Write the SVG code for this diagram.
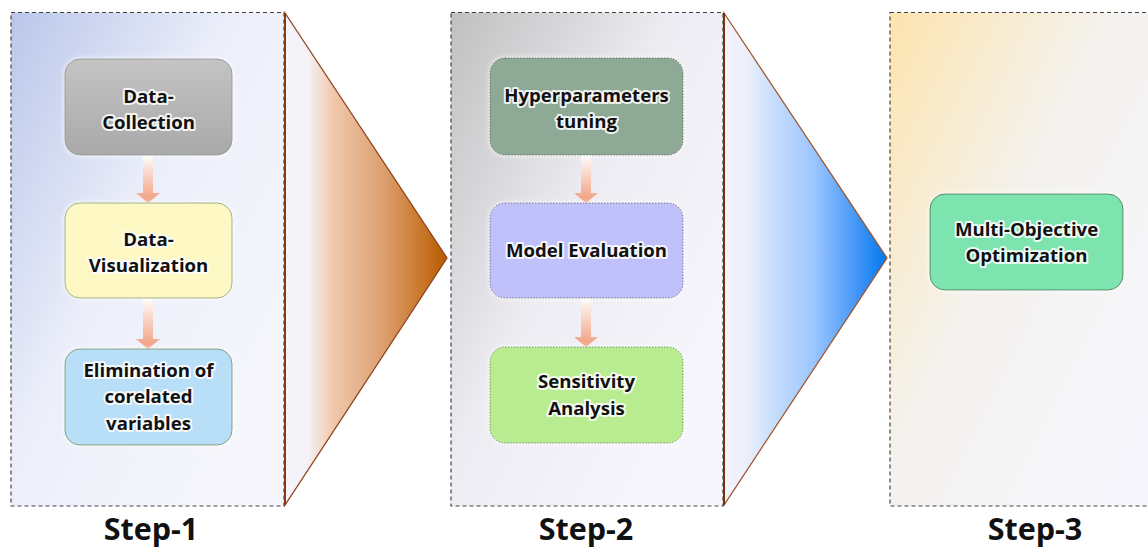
<svg xmlns="http://www.w3.org/2000/svg" width="1148" height="547" viewBox="0 0 1148 547">
<defs>
<style>
.panel{stroke:#444;stroke-width:1.2;stroke-dasharray:4 3}
.node text{font-family:"Open Sans","DejaVu Sans",sans-serif;font-weight:bold;font-size:18.6px;fill:#111;text-anchor:middle;stroke:#fff;stroke-width:4;stroke-linejoin:round;paint-order:stroke;stroke-opacity:0.85}
.step{font-family:"Open Sans","DejaVu Sans",sans-serif;font-weight:bold;font-size:30.5px;fill:#111;text-anchor:middle}
.dotted{stroke-dasharray:1.5 1.5}
</style>
<linearGradient id="gp1" gradientUnits="userSpaceOnUse" x1="11" y1="12" x2="370" y2="188">
<stop offset="0" stop-color="#bac6ea"/><stop offset="0.5" stop-color="#eceffa"/><stop offset="1" stop-color="#f6f6fc"/>
</linearGradient>
<linearGradient id="gp2" gradientUnits="userSpaceOnUse" x1="451" y1="12" x2="810" y2="188">
<stop offset="0" stop-color="#c0c0c0"/><stop offset="0.5" stop-color="#ececf2"/><stop offset="1" stop-color="#f6f6fc"/>
</linearGradient>
<linearGradient id="gp3" gradientUnits="userSpaceOnUse" x1="890" y1="12" x2="1249" y2="188">
<stop offset="0" stop-color="#fde4ae"/><stop offset="0.5" stop-color="#f4f2ee"/><stop offset="1" stop-color="#f6f6fc"/>
</linearGradient>
<linearGradient id="gt1" gradientUnits="userSpaceOnUse" x1="285" y1="0" x2="447" y2="0">
<stop offset="0" stop-color="#f4f4fb"/><stop offset="0.14" stop-color="#f4f2f6"/><stop offset="0.3" stop-color="#f0c8ac"/><stop offset="0.6" stop-color="#dca070"/><stop offset="0.85" stop-color="#c87628"/><stop offset="1" stop-color="#b45a00"/>
</linearGradient>
<linearGradient id="gt2" gradientUnits="userSpaceOnUse" x1="724" y1="0" x2="887" y2="0">
<stop offset="0" stop-color="#f4f4fb"/><stop offset="0.14" stop-color="#eceffb"/><stop offset="0.3" stop-color="#c8defb"/><stop offset="0.55" stop-color="#9cc6ff"/><stop offset="0.8" stop-color="#4898f8"/><stop offset="1" stop-color="#0078ee"/>
</linearGradient>
<linearGradient id="gArrow" x1="0" y1="0" x2="0" y2="1">
<stop offset="0" stop-color="#fdfdfd"/><stop offset="1" stop-color="#f29a78"/>
</linearGradient>
<linearGradient id="gGray" x1="0" y1="0" x2="0" y2="1">
<stop offset="0" stop-color="#c4c4c4"/><stop offset="1" stop-color="#a9a9a9"/>
</linearGradient>
<filter id="glow" x="-10%" y="-10%" width="120%" height="120%">
<feGaussianBlur in="SourceAlpha" stdDeviation="2.5" result="b"/>
<feFlood flood-color="#ffffff"/>
<feComposite in2="b" operator="in" result="w"/>
<feMerge><feMergeNode in="w"/><feMergeNode in="SourceGraphic"/></feMerge>
</filter>
</defs>
<rect width="1148" height="547" fill="#ffffff"/>

<g id="panel-1">
<rect class="panel" x="11" y="12.5" width="273" height="493.5" fill="url(#gp1)"/>
</g>
<g id="panel-2">
<rect class="panel" x="451" y="12.5" width="272" height="493.5" fill="url(#gp2)"/>
</g>
<g id="panel-3">
<rect class="panel" x="890" y="12.5" width="270" height="493.5" fill="url(#gp3)"/>
</g>

<g id="chevron-1">
<polygon points="285,13 447,258 285,505" fill="url(#gt1)" stroke="#8e4420" stroke-width="1.3"/>
<line x1="285" y1="13" x2="285" y2="505" stroke="#8a3a12" stroke-width="2"/>
</g>
<g id="chevron-2">
<polygon points="724,13 887,258 724,505" fill="url(#gt2)" stroke="#a0562a" stroke-width="1.3"/>
<line x1="724" y1="13" x2="724" y2="505" stroke="#7a2e0a" stroke-width="2"/>
</g>

<g id="connectors">
<polygon points="143,155 153,155 153,193 160,193 148,203 136,193 143,193" fill="url(#gArrow)"/>
<polygon points="143,298 153,298 153,339 160,339 148,349 136,339 143,339" fill="url(#gArrow)"/>
<polygon points="581,155 591,155 591,193 598,193 586,203 574,193 581,193" fill="url(#gArrow)"/>
<polygon points="581,298 591,298 591,337 598,337 586,347 574,337 581,337" fill="url(#gArrow)"/>
</g>

<g id="node-data-collection" class="node">
<rect x="65" y="59" width="167" height="96" rx="15" fill="url(#gGray)" stroke="#9a9a9a" filter="url(#glow)"/>
<text x="148.5" y="103">Data-</text>
<text x="148.5" y="129">Collection</text>
</g>
<g id="node-data-visualization" class="node">
<rect x="65" y="203" width="167" height="95" rx="15" fill="#fdf8c4" stroke="#9fb07c" filter="url(#glow)"/>
<text x="148.5" y="246">Data-</text>
<text x="148.5" y="272">Visualization</text>
</g>
<g id="node-elimination" class="node">
<rect x="65" y="349" width="167" height="96" rx="15" fill="#b9def8" stroke="#7d9e7d" filter="url(#glow)"/>
<text x="148.5" y="377">Elimination of</text>
<text x="148.5" y="403">corelated</text>
<text x="148.5" y="430">variables</text>
</g>

<g id="node-hyperparameters" class="node">
<rect x="490" y="58" width="193" height="97" rx="15" fill="#8eaa96" stroke="#4f6e57" class="dotted" filter="url(#glow)"/>
<text x="586.5" y="102">Hyperparameters</text>
<text x="586.5" y="128">tuning</text>
</g>
<g id="node-model-evaluation" class="node">
<rect x="490" y="203" width="193" height="95" rx="15" fill="#c0c0fa" stroke="#6a6a8a" class="dotted" filter="url(#glow)"/>
<text x="586.5" y="257">Model Evaluation</text>
</g>
<g id="node-sensitivity" class="node">
<rect x="490" y="347" width="193" height="96" rx="15" fill="#b9ec90" stroke="#6a8a5a" class="dotted" filter="url(#glow)"/>
<text x="586.5" y="388">Sensitivity</text>
<text x="586.5" y="415">Analysis</text>
</g>

<g id="node-multi-objective" class="node">
<rect x="930" y="194" width="193" height="96" rx="15" fill="#7de4b0" stroke="#4a8a62" filter="url(#glow)"/>
<text x="1026.5" y="236">Multi-Objective</text>
<text x="1026.5" y="262">Optimization</text>
</g>

<g id="labels">
<text class="step" x="151" y="540">Step-1</text>
<text class="step" x="586" y="540">Step-2</text>
<text class="step" x="1035" y="540">Step-3</text>
</g>
</svg>
